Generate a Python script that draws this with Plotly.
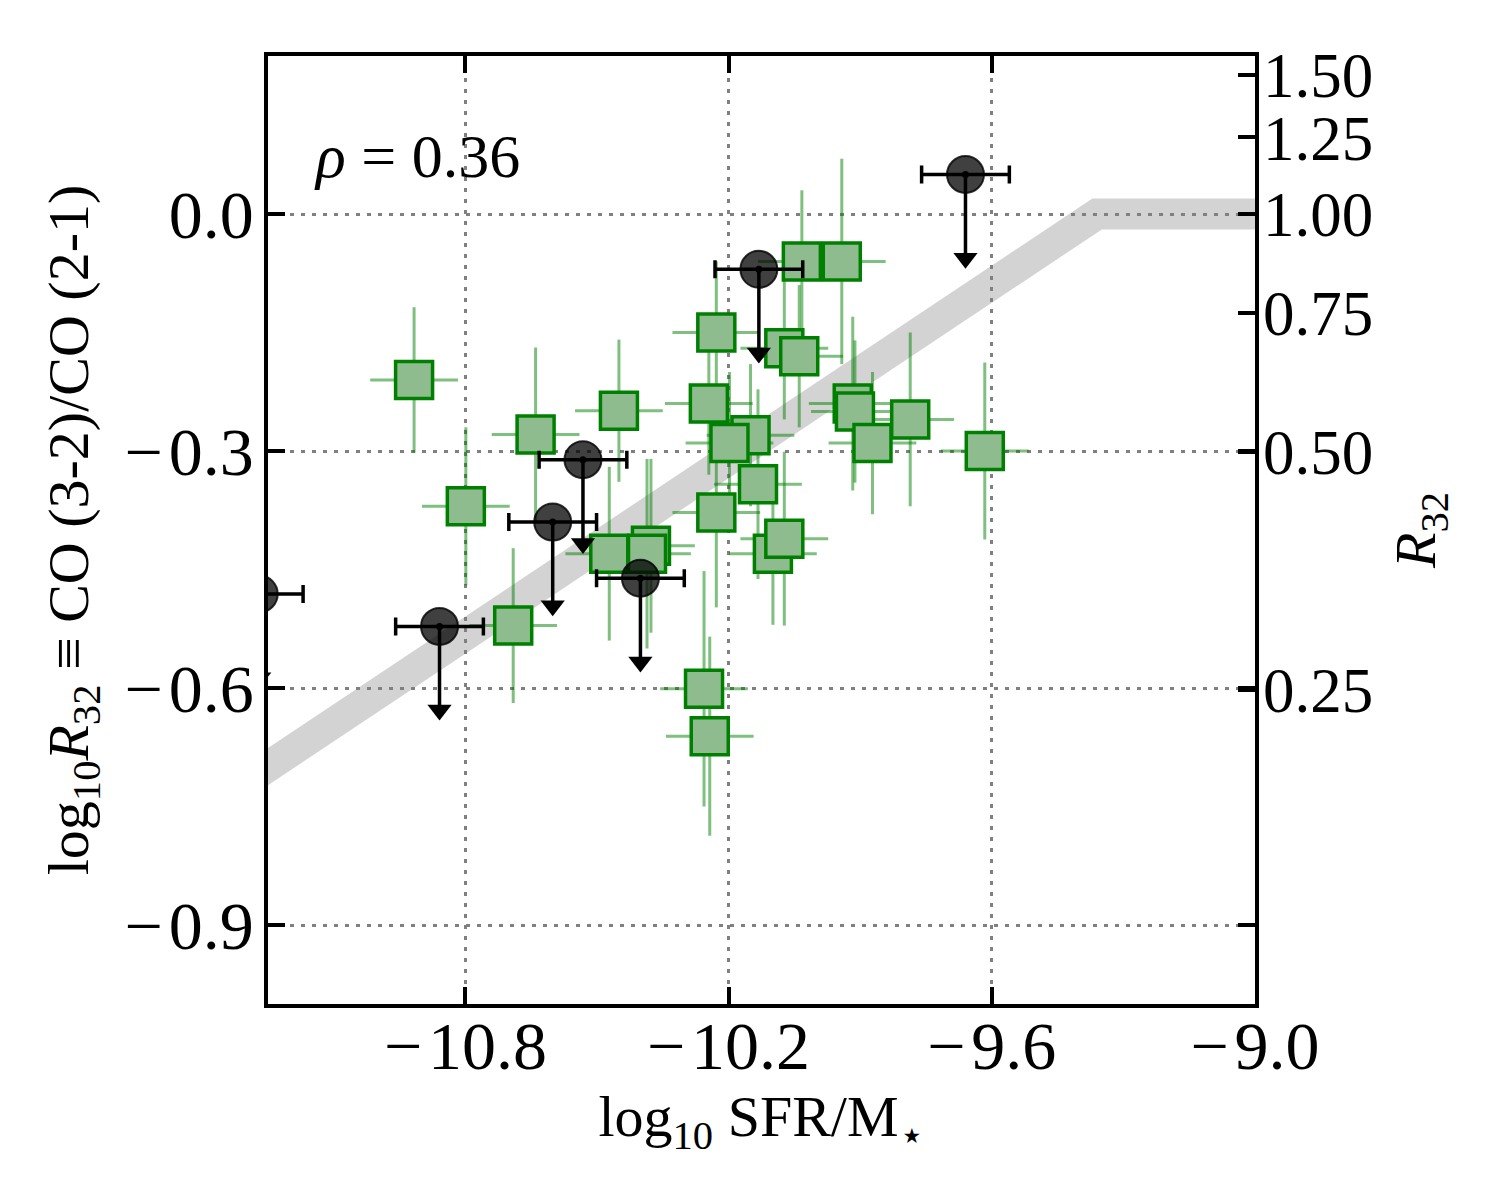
import numpy as np
import plotly.graph_objects as go

# detections (green squares)
sq_x = [-10.917, -10.799, -10.640, -10.450, -10.228, -10.245, -10.150, -10.198, -10.133,
        -10.228, -10.472, -10.377, -10.386, -10.691, -10.256, -10.243, -10.099, -10.073,
        -10.033, -9.942, -10.073, -10.039, -9.917, -9.912, -9.872, -9.786, -9.616]
sq_y = [-0.210, -0.370, -0.279, -0.249, -0.150, -0.240, -0.280, -0.290, -0.342,
        -0.378, -0.430, -0.420, -0.430, -0.521, -0.601, -0.661, -0.430, -0.411,
        -0.060, -0.060, -0.170, -0.180, -0.240, -0.250, -0.290, -0.260, -0.300]
sq_xerr = [0.1] * len(sq_x)
sq_yerr = [0.092, 0.10, 0.11, 0.09, 0.09, 0.09, 0.09, 0.09, 0.12,
           0.12, 0.11, 0.11, 0.12, 0.098, 0.149, 0.126, 0.09, 0.11,
           0.09, 0.13, 0.09, 0.09, 0.11, 0.09, 0.09, 0.11, 0.112]

# upper limits (black circles)
ul_x = [-9.660, -10.131, -10.532, -10.601, -10.401, -10.859, -11.27]
ul_y = [0.050, -0.070, -0.311, -0.390, -0.461, -0.522, -0.481]
ul_xerr = [0.1] * len(ul_x)
arrow_len = 0.12

# model band (extends past the axes, clipped)
band_x = [-11.5, -9.36, -8.8]
band_y = [-0.792, 0.0, 0.0]

# right axis ticks
r32_ticks = [1.50, 1.25, 1.00, 0.75, 0.50, 0.25]
rho = 0.36

FONT = "Liberation Serif"
MINUS = '\u2212\u200a'

fig = go.Figure()

fig.add_trace(go.Scatter(x=band_x, y=band_y, mode='lines',
    line={'color': 'rgba(128,128,128,0.35)', 'width': 31}, hoverinfo='skip'))

fig.add_trace(go.Scatter(x=sq_x, y=sq_y, mode='markers',
    error_x={'type': 'data', 'array': sq_xerr, 'color': 'rgba(0,128,0,0.5)', 'thickness': 3, 'width': 0},
    error_y={'type': 'data', 'array': sq_yerr, 'color': 'rgba(0,128,0,0.5)', 'thickness': 3, 'width': 0},
    marker={'symbol': 'square', 'size': 37, 'color': '#8fbc8f',
            'line': {'color': '#008000', 'width': 3.5}}))

# arrows for upper limits
ax_, ay_ = [], []
for xi, yi in zip(ul_x, ul_y):
    ax_ += [xi, xi, None]
    ay_ += [yi, yi - arrow_len + 0.014, None]
fig.add_trace(go.Scatter(x=ax_, y=ay_, mode='lines',
    line={'color': 'black', 'width': 3.5}, hoverinfo='skip'))
fig.add_trace(go.Scatter(x=ul_x, y=[yi - arrow_len + 0.014 for yi in ul_y], mode='markers',
    marker={'symbol': 'triangle-down', 'size': 21, 'color': 'black', 'line': {'width': 0}}))

fig.add_trace(go.Scatter(x=ul_x, y=ul_y, mode='markers',
    error_x={'type': 'data', 'array': ul_xerr, 'color': 'black', 'thickness': 3.5, 'width': 9},
    marker={'symbol': 'circle', 'size': 37, 'color': 'rgba(0,0,0,0.75)',
            'line': {'color': 'rgba(0,0,0,0.8)', 'width': 2}}))
fig.add_trace(go.Scatter(x=ul_x, y=ul_y, mode='markers',
    marker={'symbol': 'circle', 'size': 7, 'color': 'black'}))

tickfont = {'family': FONT, 'size': 68, 'color': 'black'}
rtickfont = {'family': FONT, 'size': 63, 'color': 'black'}
titlefont = {'family': FONT, 'size': 58, 'color': 'black'}
grid = {'showgrid': True, 'gridcolor': '#808080', 'gridwidth': 2.5, 'griddash': '4px,7px'}
tickstyle = {'ticks': 'inside', 'ticklen': 17, 'tickwidth': 3.5, 'tickcolor': 'black'}

fig.update_layout(
    width=1500, height=1200,
    margin={'l': 260, 'r': 253, 't': 48, 'b': 204},
    paper_bgcolor='white', plot_bgcolor='white',
    showlegend=False,
    font={'family': FONT},
    xaxis={
        'range': [-11.25, -9.0], 'tickvals': [-10.8, -10.2, -9.6, -9.0],
        'ticktext': [MINUS + '10.8', MINUS + '10.2', MINUS + '9.6', MINUS + '9.0'],
        **tickstyle, **grid,
        'showline': True, 'linewidth': 3.5, 'linecolor': 'black', 'mirror': 'ticks',
        'zeroline': False, 'tickfont': tickfont, 'ticklabelstandoff': -20,
        'title': {'text': 'log<sub>10</sub> SFR/M<sub>\u22c6</sub>', 'font': titlefont, 'standoff': 6},
    },
    yaxis={
        'range': [-1.0, 0.2], 'tickvals': [-0.9, -0.6, -0.3, 0.0],
        'ticktext': [MINUS + '0.9', MINUS + '0.6', MINUS + '0.3', '0.0'],
        **tickstyle, **grid,
        'showline': True, 'linewidth': 3.5, 'linecolor': 'black', 'mirror': 'ticks',
        'zeroline': False, 'tickfont': tickfont, 'ticklabelstandoff': -3,
        'title': {'text': 'log<sub>10</sub><i>R</i><sub>32</sub> \u2261 CO (3-2)/CO (2-1)',
                  'font': titlefont, 'standoff': 18},
    },
    yaxis2={
        'overlaying': 'y', 'side': 'right', 'anchor': 'x',
        'range': [-1.0, 0.2], 'tickvals': list(np.log10(r32_ticks)),
        'ticktext': ['%.2f' % v for v in r32_ticks],
        **tickstyle,
        'showline': False, 'showgrid': False, 'zeroline': False,
        'tickfont': rtickfont, 'ticklabelstandoff': 7,
        'title': {'text': '<i>R</i><sub>32</sub>', 'font': titlefont, 'standoff': 22},
    },
    annotations=[{
        'text': '<i>\u03c1</i> = %.2f' % rho, 'xref': 'paper', 'yref': 'paper',
        'x': 0.045, 'y': 0.895, 'xanchor': 'left', 'yanchor': 'middle',
        'showarrow': False, 'font': {'family': FONT, 'size': 62, 'color': 'black'},
    }],
)

# dummy trace so yaxis2 is drawn
fig.add_trace(go.Scatter(x=[None], y=[None], yaxis='y2', showlegend=False))

fig.write_html("out.html")
